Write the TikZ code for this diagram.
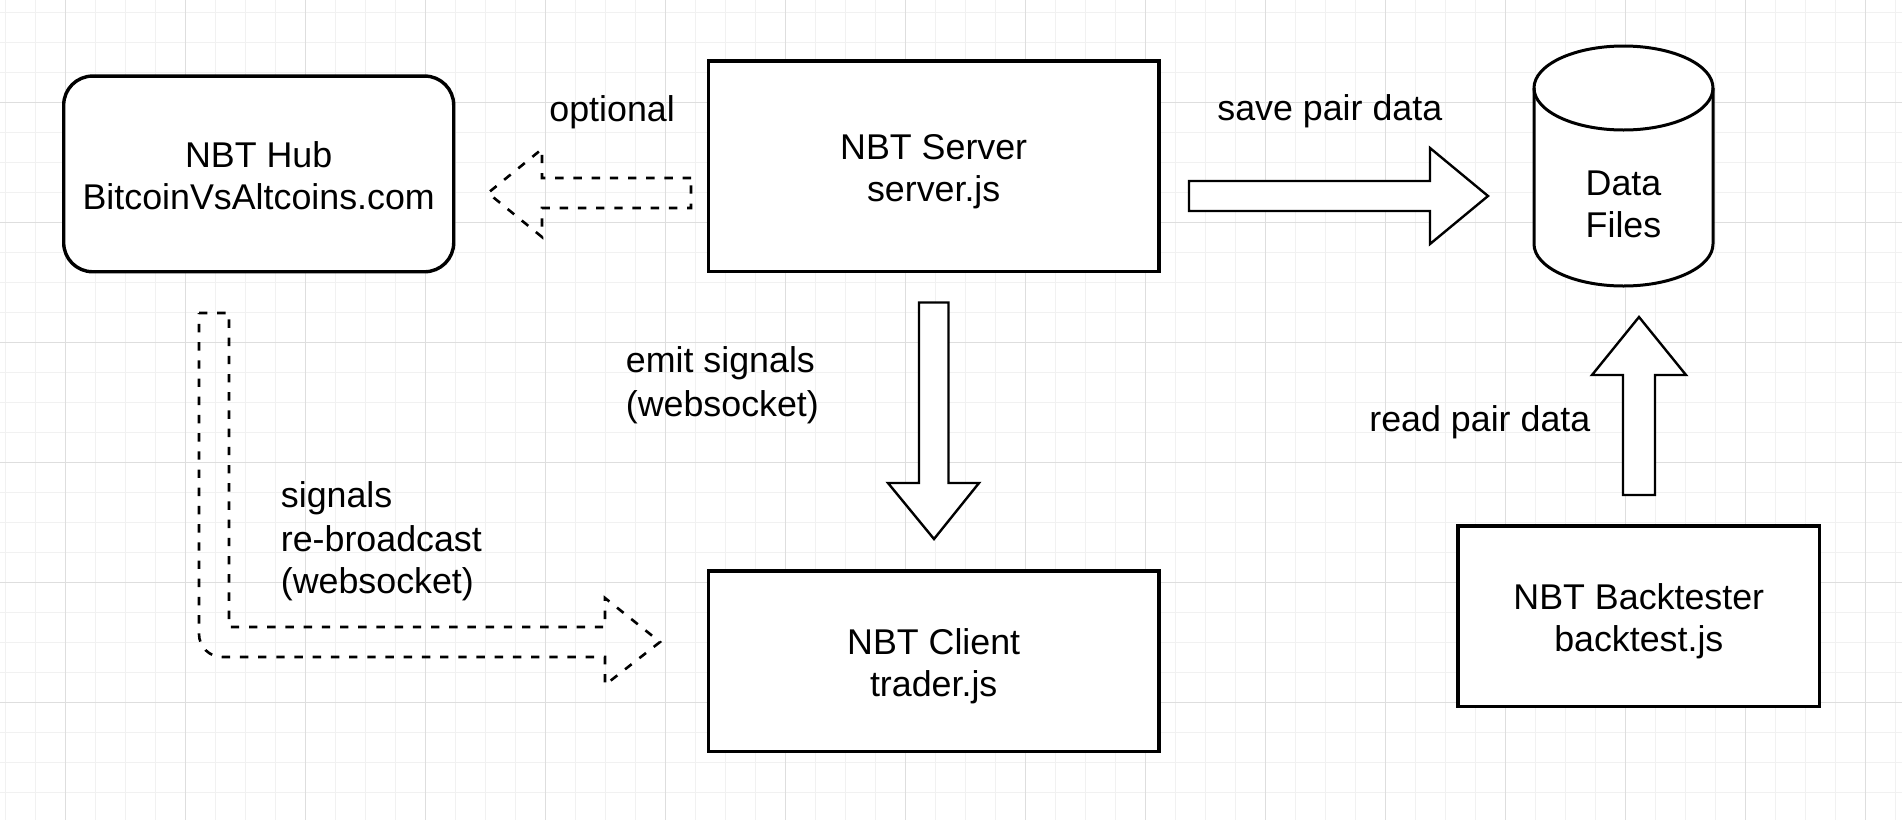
\documentclass[tikz,border=0pt]{standalone}
\usepackage{fontspec}
\setmainfont{Liberation Sans}
\usetikzlibrary{arrows}
\definecolor{gridminor}{HTML}{F1F1F1}
\definecolor{gridmajor}{HTML}{DEDEDE}
\newcommand{\ls}{\rule[-3.4pt]{0pt}{21pt}}

\begin{document}
\begin{tikzpicture}[x=0.5pt,y=-0.5pt,
         every node/.style={font=\fontsize{17.9}{21}\selectfont,inner sep=0pt},
         box/.style={draw,line width=1.7pt,fill=white,align=center},
         fat/.style={draw,line width=1.2pt,fill=white,line join=miter},
         fatdash/.style={draw,line width=1.3pt,dash pattern=on 4.2pt off 4.9pt},
         lbl/.style={anchor=base west},
         lblm/.style={anchor=north west,align=left}]
         \useasboundingbox (0,0) rectangle (1902,820);
         \fill[white] (0,0) rectangle (1902,820);
         \foreach \x in {5,35,...,1895} \draw[gridminor,line width=0.5pt] (\x,0) -- (\x,820);
         \foreach \y in {12,42,...,792} \draw[gridminor,line width=0.5pt] (0,\y) -- (1902,\y);
         \foreach \x in {65,185,...,1865} \draw[gridmajor,line width=0.5pt] (\x,0) -- (\x,820);
         \foreach \y in {102,222,...,702} \draw[gridmajor,line width=0.5pt] (0,\y) -- (1902,\y);
         % data files cylinder
         \draw[line width=1.5pt,fill=white] (1534,88) arc[start angle=180,end angle=0,x radius=44.75pt,y radius=21pt]
                  -- (1713,244) arc[start angle=0,end angle=-180,x radius=44.75pt,y radius=21pt] -- cycle;
         \draw[line width=1.5pt] (1534,88) arc[start angle=180,end angle=360,x radius=44.75pt,y radius=21pt];
         % boxes
         \node[box,rounded corners=14.5pt,minimum width=195pt,minimum height=97.85pt] (Hub) at (258.7,173.9) {\ls NBT Hub\\\ls BitcoinVsAltcoins.com};
         \node[box,minimum width=225.3pt,minimum height=105.35pt] (Srv) at (933.7,166.4) {\ls NBT Server\\\ls server.js};
         \node[box,minimum width=225.3pt,minimum height=90.35pt] (Cli) at (933.7,661.4) {\ls NBT Client\\\ls trader.js};
         \node[box,minimum width=180.75pt,minimum height=90.35pt] (Bkt) at (1638.8,616.4) {\ls NBT Backtester\\\ls backtest.js};
         \node[align=center,minimum width=89.5pt,minimum height=83.5pt] (Dat) at (1623.5,202.5) {\ls Data\\\ls Files};
         % block arrows
         \draw[fat] (1189,181) -- (1430,181) -- (1430,148) -- (1488,196) -- (1430,244) -- (1430,211) -- (1189,211) -- cycle;
         \draw[fat] (919,302.5) -- (948.5,302.5) -- (948.5,483) -- (979,483) -- (934,539) -- (888,483) -- (919,483) -- cycle;
         \draw[fat] (1623,495) -- (1623,375) -- (1592,375) -- (1639,317) -- (1686,375) -- (1655,375) -- (1655,495) -- cycle;
         \draw[fatdash] (691,178) -- (542,178) -- (542,149) -- (488,193) -- (542,237) -- (542,208) -- (691,208) -- cycle;
         \draw[fatdash] (199,313) -- (229,313) -- (229,627) -- (605,627) -- (605,598) -- (660,642) -- (605,685) -- (605,657)
                  -- (222,657) .. controls (209.3,657) and (199,646.7) .. (199,634) -- cycle;
         % labels
         \node[lbl] (Lopt) at (549,121) {optional};
         \node[lbl] (Lsave) at (1217,120.5) {save pair data};
         \node[lbl] (Lread) at (1369,431) {read pair data};
         \node[lblm] (Lemit) at (625.5,336.5) {\ls emit signals\\\ls (websocket)};
         \node[lblm] (Lsig) at (280.5,471.5) {\ls signals\\\ls re-broadcast\\\ls (websocket)};
\end{tikzpicture}
\end{document}
